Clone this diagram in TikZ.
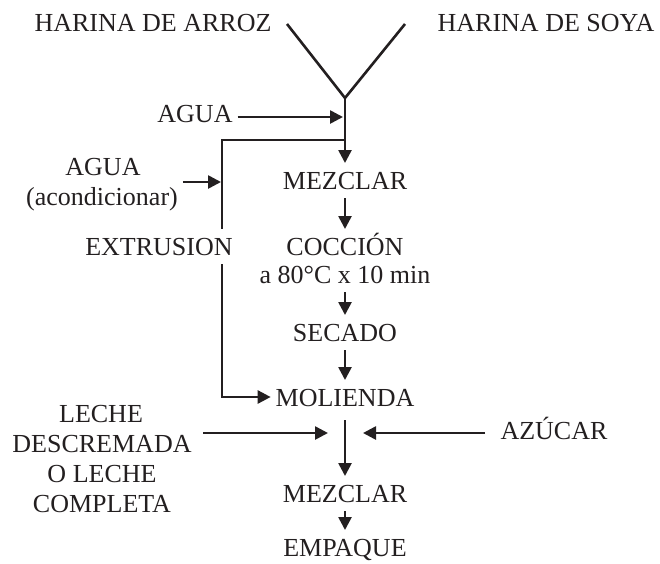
\documentclass[tikz,border=0pt]{standalone}
\usepackage{fontspec}
\setmainfont{Liberation Serif}
\usetikzlibrary{arrows.meta}
\definecolor{ink}{HTML}{231F20}
\begin{document}
\begin{tikzpicture}[x=1pt,y=-1pt,
  txt/.style={anchor=base, inner sep=0pt, outer xsep=5pt, outer ysep=9pt,
              text height=17pt, text depth=0pt, text=ink,
              font=\fontsize{26}{30}\selectfont},
  ln/.style={draw=ink, line width=2.6pt},
  arr/.style={ln, -{Triangle[length=13pt,width=13pt]}}]
\useasboundingbox (0,0) rectangle (660,563);
% texts
\node[txt] (arroz) at (153,31) {HARINA DE ARROZ};
\node[txt] (soya) at (546,31) {HARINA DE SOYA};
\node[txt] (agua1) at (195,122) {AGUA};
\node[txt] (agua2) at (103,175) {AGUA};
\node[txt] (acond) at (102,205) {(acondicionar)};
\node[txt] (ext) at (159,255) {EXTRUSION};
\node[txt] (mez1) at (345,189) {MEZCLAR};
\node[txt] (cocc) at (345,255) {COCCIÓN};
\node[txt] (cond) at (345,283) {a 80°C x 10 min};
\node[txt] (sec) at (345,341) {SECADO};
\node[txt] (mol) at (345,406) {MOLIENDA};
\node[txt] (le1) at (101,422) {LECHE};
\node[txt] (le2) at (102,452) {DESCREMADA};
\node[txt] (le3) at (102,482) {O LECHE};
\node[txt] (le4) at (102,512) {COMPLETA};
\node[txt] (azu) at (554,439) {AZÚCAR};
\node[txt] (mez2) at (345,502) {MEZCLAR};
\node[txt] (emp) at (345,556) {EMPAQUE};
% coordinates
\coordinate (yl) at (287,24);
\coordinate (yr) at (405,24);
\coordinate (j) at (345,98);
\coordinate (ja) at (343,117);
\coordinate (c1) at (222,140);
\coordinate (c2) at (222,397);
\coordinate (cb) at (221,182);
\coordinate (lin0) at (203,433);
\coordinate (lin1) at (328,433);
\coordinate (az0) at (485,433);
\coordinate (az1) at (363,433);
% connectors
\draw[ln] (yl) -- (j) -- (yr);
\draw[arr] (j) -- (mez1.north);
\draw[arr] (agua1.east |- ja) -- (ja);
\draw[ln] (c1 -| j) -- (c1) -- (ext.north -| c1);
\draw[arr] (ext.south -| c1) -- (c2) -- (c2 -| mol.west);
\draw[arr] (acond.east |- cb) -- (cb);
\draw[arr] (mez1.south) -- (cocc.north);
\draw[arr] (cond.south) -- (sec.north);
\draw[arr] (sec.south) -- (mol.north);
\draw[arr] ([yshift=-5pt]mol.south) -- (mez2.north);
\draw[arr] (lin0) -- (lin1);
\draw[arr] (az0) -- (az1);
\draw[arr] (mez2.south) -- (emp.north);
\end{tikzpicture}
\end{document}
